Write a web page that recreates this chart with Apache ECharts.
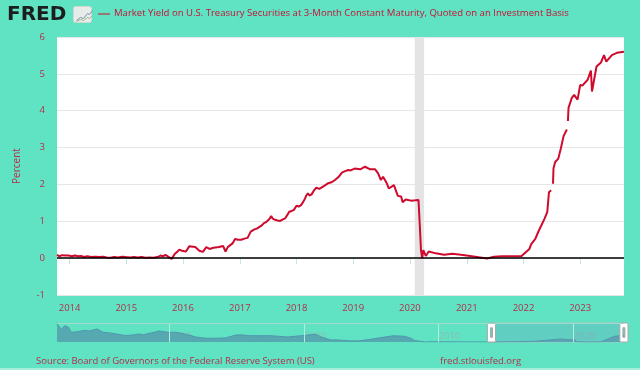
<!DOCTYPE html>
<html>
<head>
<meta charset="utf-8">
<style>
  html, body { margin: 0; padding: 0; background: #5fe3c2; }
  #chart { width: 640px; height: 370px; }
</style>
<script src="https://cdn.jsdelivr.net/npm/echarts@6/dist/echarts.min.js"></script>
</head>
<body>
<div id="chart"></div>
<script>
const titleText = "Market Yield on U.S. Treasury Securities at 3-Month Constant Maturity, Quoted on an Investment Basis";
const sourceText = "Source: Board of Governors of the Federal Reserve System (US)";
const siteText = "fred.stlouisfed.org";
const yearTicks = ["2014-01-01","2015-01-01","2016-01-01","2017-01-01","2018-01-01","2019-01-01","2020-01-01","2021-01-01","2022-01-01","2023-01-01"];
const decadeTicks = ["1990-01-01","2000-01-01","2010-01-01","2020-01-01"];
const recession = ["2020-02-01","2020-04-01"];
const axisRange = ["1981-08-20","2023-10-10"];

// main line
const dates = [
  "2013-10-12","2013-10-28","2013-11-15","2013-12-05","2013-12-24","2014-01-15","2014-02-05","2014-02-25","2014-03-15","2014-04-05","2014-04-25","2014-05-20","2014-06-15","2014-07-10","2014-08-05","2014-08-28","2014-09-20","2014-10-15","2014-11-10","2014-12-05","2014-12-28",
  "2015-01-25","2015-02-20","2015-03-15","2015-04-10","2015-05-05","2015-06-01","2015-06-25","2015-07-20","2015-08-10","2015-08-25","2015-09-10","2015-09-22","2015-10-05","2015-10-20","2015-10-30","2015-11-10","2015-11-25","2015-12-08","2015-12-25",
  "2016-01-20","2016-02-10","2016-03-20","2016-04-15","2016-05-08","2016-05-30","2016-06-20","2016-07-15","2016-08-20","2016-09-15","2016-10-01","2016-10-15","2016-11-15","2016-12-01","2016-12-20",
  "2017-01-10","2017-01-30","2017-02-20","2017-03-03","2017-03-12","2017-03-20","2017-04-05","2017-04-20","2017-05-05","2017-05-20","2017-06-05","2017-06-20","2017-07-10","2017-07-22","2017-08-01","2017-08-15","2017-09-01","2017-09-18","2017-10-05","2017-10-20","2017-11-01","2017-11-15","2017-12-01","2017-12-15",
  "2018-01-01","2018-01-15","2018-01-30","2018-02-12","2018-02-25","2018-03-05","2018-03-15","2018-03-25","2018-04-08","2018-04-22","2018-05-08","2018-05-28","2018-06-20","2018-07-05","2018-07-22","2018-08-15","2018-09-05","2018-09-28","2018-10-20","2018-11-10","2018-11-30","2018-12-15",
  "2019-01-10","2019-02-15","2019-03-18","2019-04-20","2019-05-22","2019-06-10","2019-06-28","2019-07-12","2019-08-05","2019-08-18","2019-09-20","2019-10-15","2019-11-05","2019-11-15","2019-12-05",
  "2020-01-08","2020-02-05","2020-02-25","2020-03-05","2020-03-12","2020-03-20","2020-03-27","2020-04-12","2020-05-01","2020-06-15","2020-08-08","2020-09-30","2020-11-25",
  "2021-01-22","2021-03-28","2021-05-12","2021-06-25","2021-08-15","2021-10-08","2021-12-18",
  "2022-01-10","2022-02-08","2022-02-20","2022-03-18","2022-04-10","2022-04-25","2022-05-15","2022-06-03","2022-06-14","2022-06-28","2022-07-05","2022-07-10","2022-07-13","2022-07-24","2022-08-13","2022-08-29","2022-09-16","2022-10-07","2022-10-10","2022-10-14","2022-10-18","2022-11-08","2022-11-23","2022-12-15",
  "2023-01-01","2023-01-15","2023-02-18","2023-03-11","2023-03-18","2023-04-16","2023-05-15","2023-06-03","2023-06-18","2023-07-24","2023-08-25","2023-10-10"
];
const yields = [
  0.09,0.05,0.08,0.07,0.07,0.05,0.07,0.05,0.06,0.03,0.05,0.03,0.04,0.03,0.04,0.02,0.01,0.03,0.02,0.04,0.03,
  0.02,0.03,0.02,0.03,0.01,0.02,0.01,0.03,0.07,0.05,0.09,0.04,0.02,-0.02,-0.04,0.12,0.17,0.23,0.2,
  0.18,0.32,0.3,0.2,0.17,0.3,0.25,0.28,0.3,0.33,0.18,0.3,0.4,0.52,0.5,
  0.5,0.53,0.55,0.6,0.72,0.74,0.78,0.8,0.84,0.88,0.95,0.98,1.06,1.14,1.07,1.04,1.02,1.01,1.05,1.08,1.16,1.26,1.28,1.31,
  1.42,1.4,1.44,1.52,1.62,1.7,1.76,1.7,1.73,1.83,1.91,1.88,1.94,1.98,2.03,2.06,2.12,2.2,2.32,2.36,2.39,2.38,
  2.43,2.41,2.48,2.41,2.41,2.3,2.12,2.21,2.03,1.89,1.98,1.69,1.67,1.52,1.59,
  1.56,1.57,1.58,0.85,0.22,0,0.22,0.06,0.18,0.13,0.09,0.12,0.09,
  0.06,0.02,-0.01,0.04,0.05,0.05,0.05,
  0.14,0.25,0.38,0.52,0.75,0.88,1.06,1.25,1.79,1.84,null,2.02,2.43,2.61,2.7,2.97,3.31,3.49,null,3.72,4.08,4.35,4.43,4.3,
  4.7,4.68,4.84,5.09,4.52,5.2,5.31,5.51,5.33,5.51,5.57,5.6
];

// overview strip under the chart, the whole history
const historyDates = [
  "1981-08-20","1981-12-10","1982-03-25","1982-07-01","1982-09-01","1983-01-15","1983-08-15","1984-01-15","1984-08-15","1985-01-15","1985-09-15","1986-09-15","1987-04-15","1987-09-15","1988-01-15","1988-12-15","1989-03-15","1989-12-15",
  "1990-06-15","1990-12-15","1991-06-15","1991-12-15","1992-09-15","1993-06-15","1994-02-15","1994-12-15","1995-03-15","1996-01-15","1997-01-15","1997-06-15","1998-10-15","1999-01-15","1999-12-15",
  "2000-06-15","2000-11-15","2001-03-15","2001-12-15","2002-06-15","2003-06-15","2004-01-15","2004-12-15","2005-12-15","2006-08-15","2007-06-15","2007-12-15","2008-03-15","2008-12-15","2009-06-15",
  "2010-06-15","2012-01-15","2014-01-15","2015-12-15","2017-01-15","2018-01-15","2019-01-15","2019-09-15","2020-02-15","2020-04-15","2021-01-15","2022-01-15","2022-07-15","2023-01-15","2023-10-10"
];
const historyYields = [
  15,10.5,13.3,12,8,8.2,9.4,9,10.6,8,7.2,5.3,5.7,6.6,5.9,8.2,9,7.8,
  8,6.9,5.7,4.1,3,3.1,3.3,5.7,5.9,5.1,5.1,5.2,4.1,4.4,5.3,
  5.9,6.3,4.4,1.7,1.7,0.9,0.9,2.2,4,5.1,4.7,3,1.3,0.03,0.2,
  0.12,0.08,0.03,0.23,0.5,1.43,2.42,1.9,1.55,0.14,0.05,0.1,2.2,4.6,5.6
];

const bg = "#5fe3c2";
const textRed = "#b52d4c";
const font = "'Open Sans', sans-serif";
const historyMax = 15.5;

const chart = echarts.init(document.getElementById("chart"), null, { renderer: "canvas" });

chart.setOption({
  backgroundColor: bg,
  animation: false,
  textStyle: { fontFamily: font },
  grid: [
    { left: 57, right: 16, top: 37, height: 258, show: true, backgroundColor: "#fff", borderWidth: 0 },
    { left: 57, right: 16, top: 323, height: 19, show: false }
  ],
  xAxis: [
    {
      type: "time", gridIndex: 0, min: axisRange[0], max: axisRange[1],
      axisLine: { show: true, lineStyle: { color: "#d5e6e0", width: 1 } },
      axisTick: { show: true, length: 6, lineStyle: { color: "#c5e6dc" }, customValues: yearTicks.map(d => +new Date(d + "T00:00:00")) },
      axisLabel: { color: textRed, fontSize: 9.5, margin: 8, hideOverlap: false, formatter: "{yyyy}",
        customValues: yearTicks.map(d => +new Date(d + "T00:00:00")) },
      splitLine: { show: false }
    },
    {
      type: "time", gridIndex: 1, min: axisRange[0], max: axisRange[1],
      axisLine: { show: false },
      axisTick: { show: false },
      axisLabel: { inside: true, color: "#8dbcb2", fontSize: 9.5, align: "left", margin: 1, formatter: "{yyyy}",
        customValues: decadeTicks.map(d => +new Date(d + "T00:00:00")) },
      splitLine: { show: false }
    }
  ],
  yAxis: [
    {
      type: "value", gridIndex: 0, min: -1, max: 6, interval: 1,
      name: "Percent", nameLocation: "middle", nameGap: 35, nameRotate: 90,
      nameTextStyle: { color: textRed, fontSize: 10 },
      axisLine: { show: false }, axisTick: { show: false },
      axisLabel: { color: textRed, fontSize: 9.5, margin: 12 },
      splitLine: { show: true, lineStyle: { color: "#e6e6e6", width: 1 } }
    },
    {
      type: "value", gridIndex: 1, min: 0, max: historyMax,
      show: false, splitLine: { show: false }
    }
  ],
  dataZoom: [
    {
      type: "slider", xAxisIndex: 0, filterMode: "none",
      startValue: dates[0], endValue: dates[dates.length - 1],
      left: 57, right: 16, top: 323, height: 19,
      showDataShadow: false, showDetail: false, brushSelect: false,
      moveHandleSize: 0, zoomLock: true,
      backgroundColor: "transparent", borderColor: "transparent", borderRadius: 0,
      fillerColor: "rgba(100,150,190,0.28)",
      handleIcon: "path://M2,0 L10,0 Q12,0 12,2 L12,26 Q12,28 10,28 L2,28 Q0,28 0,26 L0,2 Q0,0 2,0 Z M4.5,7 L4.5,21 L7.5,21 L7.5,7 Z",
      handleSize: 19,
      handleStyle: { color: "#fff", borderColor: "#a9a9a9", borderWidth: 1 },
      z: 4
    }
  ],
  series: [
    {
      name: "3-Month", type: "line", xAxisIndex: 0, yAxisIndex: 0,
      data: dates.map((d, i) => [d, yields[i]]),
      showSymbol: false, connectNulls: false, clip: true, z: 3,
      lineStyle: { color: "#cf0a2c", width: 2 },
      markArea: {
        silent: true,
        itemStyle: { color: "#e4e4e4" },
        data: [[{ xAxis: recession[0] }, { xAxis: recession[1] }]]
      },
      markLine: {
        silent: true, symbol: "none", label: { show: false },
        lineStyle: { color: "#000", width: 1.5, type: "solid" },
        data: [{ yAxis: 0 }]
      }
    },
    {
      name: "History", type: "line", xAxisIndex: 1, yAxisIndex: 1,
      data: historyDates.map((d, i) => [d, historyYields[i]]),
      showSymbol: false, silent: true,
      lineStyle: { color: "#4f97ad", width: 1 },
      areaStyle: { color: "#56a9b0", opacity: 1 },
      markArea: {
        silent: true,
        itemStyle: { color: "transparent", borderColor: "#a3c9c4", borderWidth: 1 },
        data: [[{ xAxis: dates[0], yAxis: 0 }, { xAxis: dates[dates.length - 1], yAxis: historyMax }]]
      },
      markLine: {
        silent: true, symbol: "none", label: { show: false },
        lineStyle: { color: "#b6ece0", width: 1, type: "solid" },
        data: decadeTicks.map(d => ({ xAxis: d })).concat([{ yAxis: historyMax, lineStyle: { color: "#a6d6c9" } }])
      }
    }
  ],
  graphic: [
    { type: "text", left: 7, top: 5, style: { text: "FRED", fontFamily: "'DejaVu Sans', sans-serif", fontWeight: "bold", fontSize: 20, fill: "#1d1d1f" } },
    { type: "rect", left: 73, top: 6, shape: { width: 18, height: 16, r: 2 }, style: { fill: "#e8ece8", stroke: "#d0d6d0" } },
    { type: "polyline", left: 74, top: 8, shape: { points: [[0, 10], [4, 7], [7, 8], [11, 3], [13, 4], [16, 0]] }, style: { stroke: "#7a93ad", fill: null, lineWidth: 1 } },
    { type: "polyline", left: 74, top: 13, shape: { points: [[0, 6], [4, 4], [7, 5], [11, 2], [13, 3], [16, 0]] }, style: { stroke: "#a3b58c", fill: null, lineWidth: 1 } },
    { type: "rect", left: 98, top: 13.5, shape: { width: 12, height: 1 }, style: { fill: "#cf0a2c" } },
    { type: "text", left: 114, top: 8, style: { text: titleText, fontFamily: font, fontSize: 9.55, fill: "#c81038" } },
    { type: "text", left: 36, top: 356, style: { text: sourceText, fontFamily: font, fontSize: 9.5, fill: textRed } },
    { type: "text", left: 440, top: 356, style: { text: siteText, fontFamily: font, fontSize: 9.5, fill: textRed } },
    { type: "rect", left: 0, top: 368, shape: { width: 640, height: 2 }, style: { fill: "#a5ecd9" } }
  ]
});
</script>
</body>
</html>
